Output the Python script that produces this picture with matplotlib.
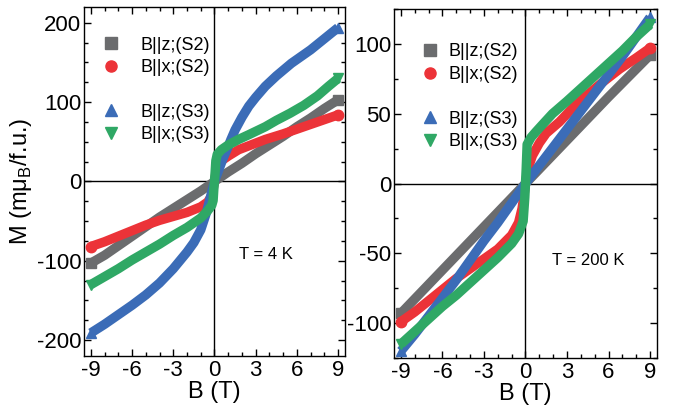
import numpy as np
import matplotlib
matplotlib.use("Agg")
from matplotlib import pyplot as plt
from matplotlib.lines import Line2D
from matplotlib.ticker import MultipleLocator

plt.rcParams['font.family'] = ['Liberation Sans', 'DejaVu Sans']
plt.rcParams['mathtext.fontset'] = 'custom'
plt.rcParams['mathtext.rm'] = 'Liberation Sans'
plt.rcParams['axes.unicode_minus'] = False

# ---- T = 4 K (left panel) ----
b4_gray = [-9, -8, -7, -6, -5, -4, -3, -2, -1, 0, 1, 2, 3, 4, 5, 6, 7, 8, 9]
m4_gray = [-103, -93, -81, -69, -57, -45, -34, -23, -12, 0, 12, 23, 35, 46, 57, 69, 80, 92, 103]

b4_red = [-9, -8, -7, -6, -5, -4, -3, -2, -1, -0.5, -0.2, -0.08, 0.08, 0.2, 0.5, 1,
          1.75, 2.5, 3.7, 5, 6, 7, 8, 9]
m4_red = [-82, -76, -69, -62, -55, -49, -44, -39, -32, -26, -18, -8, 8, 18, 26, 32,
          40, 45, 53, 60, 66, 72, 78, 84]

b4_blue = [-9, -8, -7, -6, -5, -4, -3, -2, -1.5, -1, -0.6, -0.3, 0, 0.3, 0.6, 0.9,
           1.2, 1.5, 2, 2.5, 3, 3.7, 4.5, 5.6, 7, 8, 9]
m4_blue = [-191, -180, -168, -156, -143, -128, -110, -89, -77, -61, -40, -20, 0, 14, 28, 40,
           53, 65, 81, 95, 106, 120, 133, 149, 166, 180, 194]

b4_green = [-9, -8, -7, -6, -5, -4, -3, -2, -1, -0.5, -0.2, -0.1, -0.05, 0.05, 0.1, 0.2,
            0.5, 1, 1.75, 2.5, 3.7, 4.5, 5.5, 6.5, 7.5, 8.3, 9]
m4_green = [-130, -120, -110, -99, -89, -79, -68, -58, -46, -37, -30, -24, -10, 12, 26, 34,
            40, 46, 53, 59, 69, 77, 86, 96, 108, 120, 130]

# ---- T = 200 K (right panel) ----
b200_gray = [-9, -6, -3, 0, 3, 6, 9]
m200_gray = [-93, -62, -31, 0, 31, 62, 92]

b200_red = [-9, -8, -7, -6, -5, -4, -3, -2, -1, -0.5, -0.25, -0.1, 0, 0.1, 0.26, 0.5,
            1, 1.5, 2.44, 3.5, 4.4, 5.5, 6.8, 8, 9]
m200_red = [-99, -92, -84, -76, -68, -61, -54, -47, -37, -28, -18, -8, 0, 6, 13, 20,
            29, 36, 44, 55, 63, 72, 82, 90, 97]

b200_blue = [-9, -8, -7, -6, -5, -4, -3, -2, -1, 0, 1, 2, 3, 4, 5, 6, 7, 8, 9]
m200_blue = [-120, -108, -95, -82, -69, -55, -41, -28, -14, 0, 13, 26, 39, 52, 65, 78, 91, 105, 119]

b200_green = [-9, -8, -7, -6, -5, -4, -3, -2, -1, -0.5, -0.17, -0.05, 0.05, 0.12, 0.4,
              0.75, 1.3, 1.95, 3, 4, 5, 6, 7, 8, 9]
m200_green = [-115, -106, -97, -88, -80, -71, -62, -53, -43, -36, -27, -10, 10, 28, 33,
              37, 43, 50, 59, 68, 77, 86, 95, 105, 114]

labels = ['B||z;(S2)', 'B||x;(S2)', 'B||z;(S3)', 'B||x;(S3)']
colors = ['#6b6c6e', '#ec3338', '#3b6cb7', '#2fa865']
markers = ['s', 'o', '^', 'v']

fig = plt.figure(figsize=(6.75, 4.15), dpi=100)
ax1 = fig.add_axes([0.1244, 0.1422, 0.3867, 0.841])
ax2 = fig.add_axes([0.5837, 0.1373, 0.3896, 0.841])

panels = [
    (ax1, [(b4_gray, m4_gray), (b4_red, m4_red), (b4_blue, m4_blue), (b4_green, m4_green)]),
    (ax2, [(b200_gray, m200_gray), (b200_red, m200_red), (b200_blue, m200_blue), (b200_green, m200_green)]),
]

order = [0, 1, 3, 2]
for ax, series in panels:
    ax.axhline(0, color='black', lw=1.0, zorder=1)
    ax.axvline(0, color='black', lw=1.0, zorder=1)
    for i in order:
        b, m = series[i]
        ax.plot(b, m, color=colors[i], lw=6.8, solid_capstyle='butt',
                solid_joinstyle='round', zorder=2 + i)
        ax.plot([b[0], b[-1]], [m[0], m[-1]], ls='none', marker=markers[i],
                color=colors[i], ms=7.5, zorder=2 + i)
    ax.set_xlim(-9.5, 9.5)
    ax.xaxis.set_major_locator(MultipleLocator(3))
    ax.xaxis.set_minor_locator(MultipleLocator(1))
    ax.tick_params(which='both', direction='in', top=True, right=True, width=1.0)
    ax.tick_params(which='major', length=5, labelsize=16, pad=3)
    ax.tick_params(which='minor', length=3)
    ax.tick_params(axis='y', pad=2)
    for s in ax.spines.values():
        s.set_linewidth(1.0)
    ax.set_xlabel('B (T)', fontsize=17, labelpad=0)

ax1.set_ylim(-220, 220)
ax1.yaxis.set_major_locator(MultipleLocator(100))
ax1.yaxis.set_minor_locator(MultipleLocator(25))
ax1.set_ylabel('M (mμ$_\\mathregular{B}$/f.u.)', fontsize=17, labelpad=2)
ax1.text(1.75, -92, 'T = 4 K', fontsize=12, ha='left', va='center')

ax2.set_ylim(-125, 125)
ax2.yaxis.set_major_locator(MultipleLocator(50))
ax2.yaxis.set_minor_locator(MultipleLocator(25))
ax2.text(1.9, -55, 'T = 200 K', fontsize=12, ha='left', va='center')


def add_legend(ax, anchor, textpad):
    h = [Line2D([], [], ls='none', marker=markers[i], color=colors[i], ms=8) for i in range(4)]
    blank = Line2D([], [], ls='none', marker='')
    leg = ax.legend([h[0], h[1], blank, h[2], h[3]],
                    [labels[0], labels[1], labels[0], labels[2], labels[3]],
                    loc='upper left', bbox_to_anchor=anchor, frameon=False,
                    fontsize=13, handlelength=1.0, handletextpad=textpad,
                    labelspacing=0.3, borderaxespad=0)
    leg.get_texts()[2].set_alpha(0)


add_legend(ax1, (0.04, 0.936), 1.14)
add_legend(ax2, (0.074, 0.922), 0.53)

fig.savefig('out.png', dpi=100)
